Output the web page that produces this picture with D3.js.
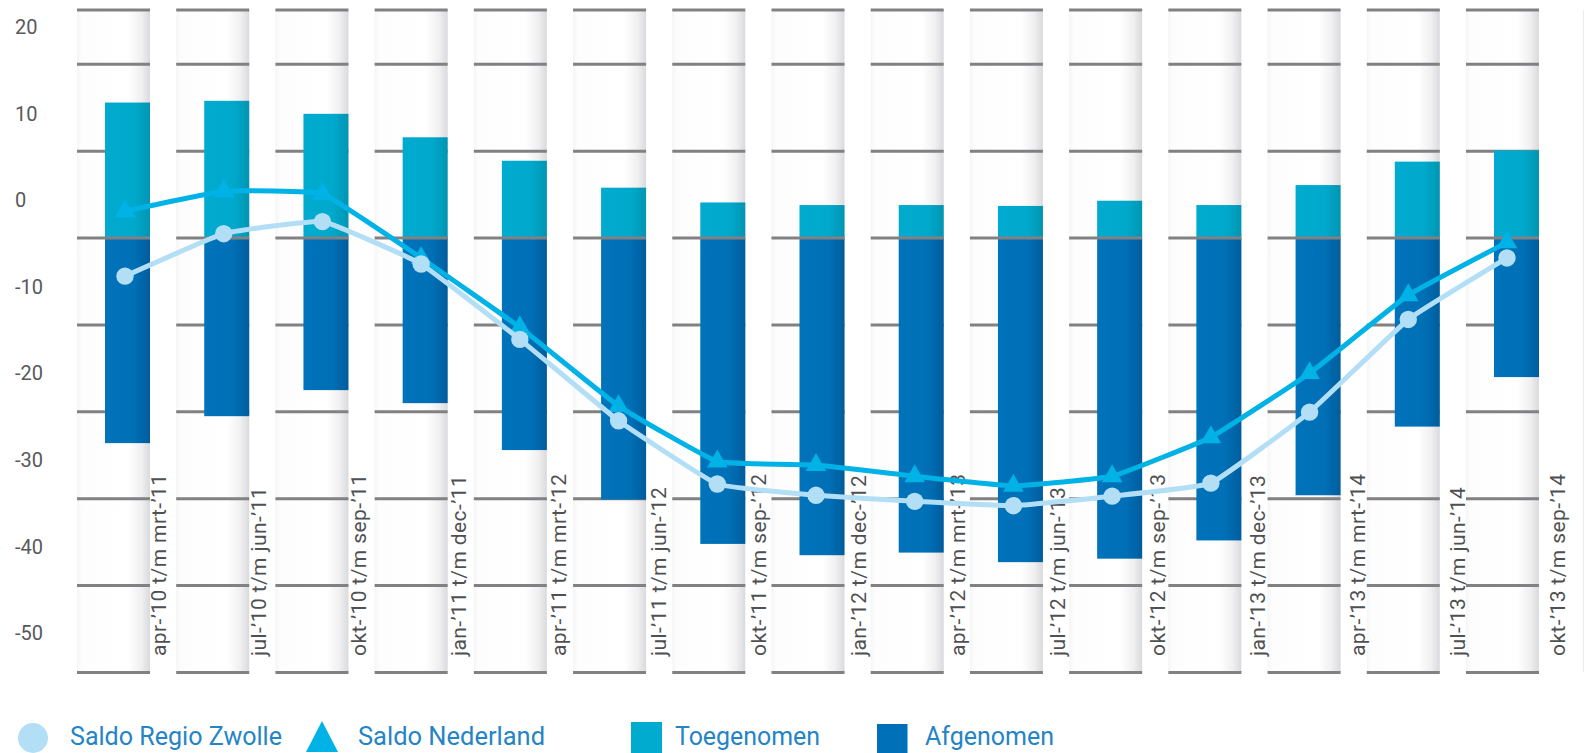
<!DOCTYPE html>
<html>
<head>
<meta charset="utf-8">
<script src="https://cdn.jsdelivr.net/npm/d3@7"></script>
<style>
  html, body { margin: 0; padding: 0; background: #ffffff; }
  svg { display: block; }
  text { font-family: Roboto, "Noto Sans", sans-serif; }
</style>
</head>
<body>
<svg id="chart" width="1585" height="753"></svg>
<script>
const categories = [
  "apr-’10 t/m mrt-’11", "jul-’10 t/m jun-’11", "okt-’10 t/m sep-’11",
  "jan-’11 t/m dec-’11", "apr-’11 t/m mrt-’12", "jul-’11 t/m jun-’12",
  "okt-’11 t/m sep-’12", "jan-’12 t/m dec-’12", "apr-’12 t/m mrt-’13",
  "jul-’12 t/m jun-’13", "okt-’12 t/m sep-’13", "jan-’13 t/m dec-’13",
  "apr-’13 t/m mrt-’14", "jul-’13 t/m jun-’14", "okt-’13 t/m sep-’14"
];
const toegenomen = [15.6, 15.8, 14.3, 11.6, 8.9, 5.8, 4.1, 3.8, 3.8, 3.7, 4.3, 3.8, 6.1, 8.8, 10.1];
const afgenomen = [-23.6, -20.5, -17.5, -19.0, -24.4, -30.1, -35.2, -36.5, -36.2, -37.3, -36.9, -34.8, -29.6, -21.7, -16.0];
const saldoZwolle = [-8.8, -3.9, -2.5, -7.4, -16.1, -25.5, -32.8, -34.1, -34.8, -35.3, -34.2, -32.7, -24.5, -13.8, -6.7];
const saldoNederland = [-1.3, 1.0, 0.7, -6.7, -14.7, -23.8, -30.2, -30.6, -31.9, -33.0, -31.9, -27.4, -20.0, -11.0, -4.9];
const yTicks = [20, 10, 0, -10, -20, -30, -40, -50];
const legendLabels = ["Saldo Regio Zwolle", "Saldo Nederland", "Toegenomen", "Afgenomen"];

const colors = {
  toe: "#00abcf", toeDark: "#0095b3",
  af: "#0071b9", afDark: "#005d9d",
  zwolle: "#b2dff5", ned: "#00b2e6",
  grid: "#818183", tick: "#58595b", legend: "#2584c6"
};

const svg = d3.select("#chart");
const plotTop = 10;

// scales
const yBar = d3.scaleLinear().domain([-50, 20]).range([672.5, 64.3]);
const yLab = d3.scaleLinear().domain([-50, 20]).range([633, 26.7]);
const xBand = d3.scaleBand().domain(categories).range([77, 1539]).paddingInner(0.264).paddingOuter(0);
const xPt = d3.scalePoint().domain(categories).range([125, 1507]);
const xLabel = d3.scalePoint().domain(categories).range([166, 1565]);
const bw = xBand.bandwidth();
const barW = 45;

// gradients
const defs = svg.append("defs");
function grad(id, stops) {
  const g = defs.append("linearGradient").attr("id", id).attr("x1", "0").attr("x2", "1").attr("y1", "0").attr("y2", "0");
  stops.forEach(s => g.append("stop").attr("offset", s[0]).attr("stop-color", s[1]));
}
grad("bandG", [["0", "#f5f5f5"], ["0.06", "#fdfdfd"], ["0.7", "#ffffff"], ["0.88", "#f0f0f1"], ["1", "#d9dadd"]]);
grad("toeG", [["0", colors.toe], ["0.65", "#00a9cc"], ["1", colors.toeDark]]);
grad("afG", [["0", "#0073bb"], ["0.65", "#006fb6"], ["1", colors.afDark]]);

// bands
svg.append("g").selectAll("rect").data(categories).join("rect")
  .attr("x", d => xBand(d)).attr("width", bw)
  .attr("y", plotTop).attr("height", yBar(-50) - plotTop)
  .attr("fill", "url(#bandG)");

// right edge faint line
svg.append("line").attr("x1", 1583.5).attr("x2", 1583.5).attr("y1", plotTop).attr("y2", yBar(-50))
  .attr("stroke", "#ececec").attr("stroke-width", 1);

// grid lines (non-zero) on each band
const gridG = svg.append("g");
const gridVals = yTicks.filter(v => v !== 0);
categories.forEach(c => {
  gridG.selectAll(null).data(gridVals).join("line")
    .attr("x1", xBand(c)).attr("x2", xBand(c) + bw)
    .attr("y1", d => yBar(d)).attr("y2", d => yBar(d))
    .attr("stroke", colors.grid).attr("stroke-width", 3);
  gridG.append("line")
    .attr("x1", xBand(c)).attr("x2", xBand(c) + bw)
    .attr("y1", plotTop).attr("y2", plotTop)
    .attr("stroke", colors.grid).attr("stroke-width", 3);
});

// bars
const barsG = svg.append("g");
barsG.selectAll(".toe").data(categories).join("rect").attr("class", "toe")
  .attr("x", d => xBand(d) + bw - barW).attr("width", barW)
  .attr("y", (d, i) => yBar(toegenomen[i])).attr("height", (d, i) => yBar(0) - yBar(toegenomen[i]))
  .attr("fill", "url(#toeG)");
barsG.selectAll(".af").data(categories).join("rect").attr("class", "af")
  .attr("x", d => xBand(d) + bw - barW).attr("width", barW)
  .attr("y", yBar(0)).attr("height", (d, i) => yBar(afgenomen[i]) - yBar(0))
  .attr("fill", "url(#afG)");

// zero line over bars
svg.append("g").selectAll("line").data(categories).join("line")
  .attr("x1", d => xBand(d)).attr("x2", d => xBand(d) + bw)
  .attr("y1", yBar(0)).attr("y2", yBar(0))
  .attr("stroke", colors.grid).attr("stroke-width", 3);

// y tick labels
svg.append("g").selectAll("text").data(yTicks).join("text")
  .attr("x", 15).attr("y", d => yLab(d)).attr("dy", "0.36em")
  .attr("font-size", 20).attr("fill", colors.tick)
  .text(d => d);

// category labels (rotated)
svg.append("g").selectAll("text").data(categories).join("text")
  .attr("transform", d => `translate(${xLabel(d)},656) rotate(-90)`)
  .attr("text-anchor", "start")
  .attr("font-size", 21).attr("letter-spacing", "0.4px")
  .attr("fill", "#4f5052")
  .text(d => d);

// lines
const lineGen = data => d3.line()
  .x((d, i) => xPt(categories[i]))
  .y(d => yLab(d))
  .curve(d3.curveCardinal.tension(0.7))(data);

svg.append("path").attr("d", lineGen(saldoNederland))
  .attr("fill", "none").attr("stroke", colors.ned).attr("stroke-width", 5).attr("stroke-linejoin", "round");
svg.append("g").selectAll("path").data(saldoNederland).join("path")
  .attr("d", d3.symbol().type(d3.symbolTriangle).size(185))
  .attr("transform", (d, i) => `translate(${xPt(categories[i])},${yLab(d)})`)
  .attr("fill", colors.ned);

svg.append("path").attr("d", lineGen(saldoZwolle))
  .attr("fill", "none").attr("stroke", colors.zwolle).attr("stroke-width", 5).attr("stroke-linejoin", "round");
svg.append("g").selectAll("circle").data(saldoZwolle).join("circle")
  .attr("cx", (d, i) => xPt(categories[i])).attr("cy", d => yLab(d)).attr("r", 8.7)
  .attr("fill", colors.zwolle);

// legend
const lg = svg.append("g");
lg.append("circle").attr("cx", 33).attr("cy", 738).attr("r", 15).attr("fill", colors.zwolle);
lg.append("path").attr("d", "M306,752L338,752L322,721Z").attr("fill", colors.ned);
lg.append("rect").attr("x", 631).attr("y", 722).attr("width", 31).attr("height", 31).attr("fill", colors.toe);
lg.append("rect").attr("x", 877).attr("y", 724).attr("width", 30.5).attr("height", 29).attr("fill", colors.af);
const legX = [70, 358, 675, 925];
const legW = [212, 187, 145, 129];
lg.selectAll("text").data(legendLabels).join("text")
  .attr("x", (d, i) => legX[i]).attr("y", 745)
  .attr("font-size", 26).attr("fill", colors.legend)
  .attr("textLength", (d, i) => legW[i]).attr("lengthAdjust", "spacingAndGlyphs")
  .text(d => d);
</script>
</body>
</html>
